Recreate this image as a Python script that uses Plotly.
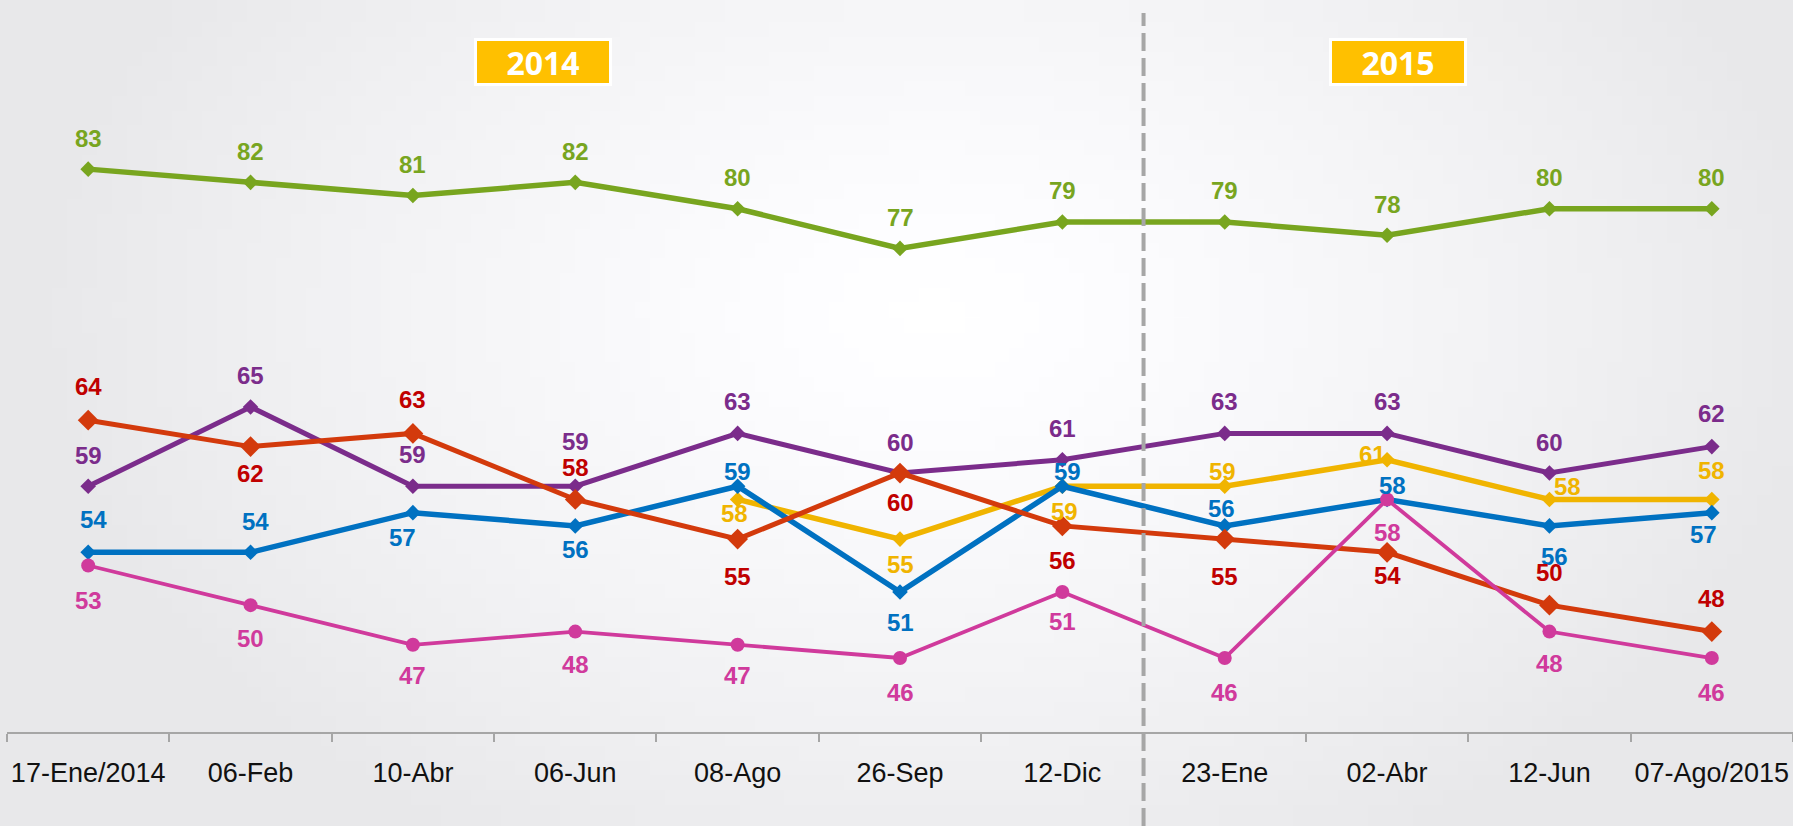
import base64
import struct
import zlib

import plotly.graph_objects as go

# fechas de medición
fechas = ["17-Ene/2014", "06-Feb", "10-Abr", "06-Jun", "08-Ago", "26-Sep",
          "12-Dic", "23-Ene", "02-Abr", "12-Jun", "07-Ago/2015"]

verde = [83, 82, 81, 82, 80, 77, 79, 79, 78, 80, 80]
morado = [59, 65, 59, 59, 63, 60, 61, 63, 63, 60, 62]
amarillo = [None, None, None, None, 58, 55, 59, 59, 61, 58, 58]
azul = [54, 54, 57, 56, 59, 51, 59, 56, 58, 56, 57]
rojo = [64, 62, 63, 58, 55, 60, 56, 55, 54, 50, 48]
rosa = [53, 50, 47, 48, 47, 46, 51, 46, 58, 48, 46]

# desplazamiento de las etiquetas (px): vertical y horizontal
dy_verde = [31] * 11
dy_morado = [31, 31, 32, 45, 32, 31, 31, 32, 32, 31, 33]
dy_amarillo = [0, 0, 0, 0, -14, -25, -25, 15, 5, 13, 29]
dx_amarillo = [0, 0, 0, 0, -3, 0, 2, -2, -15, 18, 0]
dy_azul = [33, 31, -25, -24, 15, -31, 15, 17, 14, -31, -22]
dx_azul = [5, 5, -10, 0, 0, 0, 5, -3, 5, 5, -8]
dy_rojo = [34, -27, 34, 32, -37, -29, -35, -37, -23, 33, 33]
dy_rosa = [-35, -33, -31, -33, -31, -34, -30, -34, -33, -32, -34]


def fondo_png(w, h):
    # degradado radial gris claro -> blanco para el fondo
    filas = []
    for j in range(h):
        fila = bytearray([0])
        for i in range(w):
            t = (((i + 0.5) / w - 0.52) / 0.5) ** 2 + (((j + 0.5) / h - 0.38) / 0.75) ** 2
            t = min(1.0, t ** 0.5)
            c = int(round(255 - (255 - 232) * t ** 1.3))
            fila += bytes([c, c, min(255, c + 2)])
        filas.append(bytes(fila))
    raw = b"".join(filas)

    def chunk(tipo, datos):
        return (struct.pack(">I", len(datos)) + tipo + datos +
                struct.pack(">I", zlib.crc32(tipo + datos) & 0xffffffff))

    png = b"\x89PNG\r\n\x1a\n"
    png += chunk(b"IHDR", struct.pack(">IIBBBBB", w, h, 8, 2, 0, 0, 0))
    png += chunk(b"IDAT", zlib.compress(raw, 9))
    png += chunk(b"IEND", b"")
    return "data:image/png;base64," + base64.b64encode(png).decode()


x = list(range(len(fechas)))
fig = go.Figure()

series = [
    (verde, "#78a51f", "#78a51f", "diamond", 12, 5.5, dy_verde, [0] * 11),
    (morado, "#7b2c8b", "#7b2c8b", "diamond", 12, 5, dy_morado, [0] * 11),
    (amarillo, "#f0b400", "#f0b400", "diamond", 12, 5.5, dy_amarillo, dx_amarillo),
    (azul, "#0071c1", "#0071c1", "diamond", 12, 5.5, dy_azul, dx_azul),
    (rojo, "#d33a0c", "#c00000", "diamond", 16, 5, dy_rojo, [0] * 11),
    (rosa, "#d03a9c", "#d03a9c", "circle", 14, 3.8, dy_rosa, [0] * 11),
]

annotations = []
for vals, col, col_txt, simbolo, tam, ancho, dys, dxs in series:
    fig.add_trace(go.Scatter(
        x=x, y=vals, mode="lines+markers",
        line=dict(color=col, width=ancho),
        marker=dict(symbol=simbolo, size=tam, color=col),
        hoverinfo="y", showlegend=False,
    ))
    for i, v in enumerate(vals):
        if v is None:
            continue
        annotations.append(dict(
            x=i, y=v, text=str(v), showarrow=False,
            yshift=dys[i], xshift=dxs[i],
            font=dict(family="Liberation Sans, Arial, sans-serif", size=24,
                      color=col_txt, weight="bold"),
        ))

for anio, pos in [("2014", 2.8), ("2015", 8.07)]:
    annotations.append(dict(
        x=pos, y=1 - 62 / 732, yref="paper", yanchor="middle",
        text="<b>" + anio + "</b>",
        showarrow=False, bgcolor="#ffc000", bordercolor="#ffffff",
        borderwidth=3, borderpad=2, width=128, height=38,
        font=dict(family="Open Sans, sans-serif", size=32, color="#ffffff"),
    ))

fig.update_layout(
    width=1793, height=826,
    margin=dict(l=7, r=0, t=0, b=94),
    paper_bgcolor="#eaebed",
    plot_bgcolor="rgba(0,0,0,0)",
    images=[dict(
        source=fondo_png(120, 56), xref="paper", yref="paper",
        x=-7 / 1786, y=1.0, sizex=1793 / 1786, sizey=826 / 732,
        xanchor="left", yanchor="top", sizing="stretch", layer="below",
    )],
    shapes=[dict(
        type="line", xref="x", yref="paper", x0=6.5, x1=6.5,
        y0=-94 / 732, y1=1 - 13 / 732,
        line=dict(color="#a6a6a6", width=4, dash="18px,7px"),
    )],
    annotations=annotations,
    xaxis=dict(
        range=[-0.5, 10.5], tickvals=x, ticktext=fechas,
        ticks="", showgrid=False, zeroline=False,
        showline=True, linecolor="#a6a6a6", linewidth=2,
        ticklabelstandoff=16,
        tickfont=dict(family="Liberation Sans, Arial, sans-serif", size=27,
                      color="#111111"),
        minor=dict(tickmode="array", tickvals=[i - 0.5 for i in range(12)],
                   ticks="outside", ticklen=8, tickcolor="#a6a6a6",
                   tickwidth=1.5, showgrid=False),
    ),
    yaxis=dict(range=[40.4, 95.8], visible=False, showgrid=False),
)

# sin margen en el body para que la figura llene la ventana
fig.write_html("out.html", config={"displayModeBar": False},
               post_script="document.body.style.margin='0';")
